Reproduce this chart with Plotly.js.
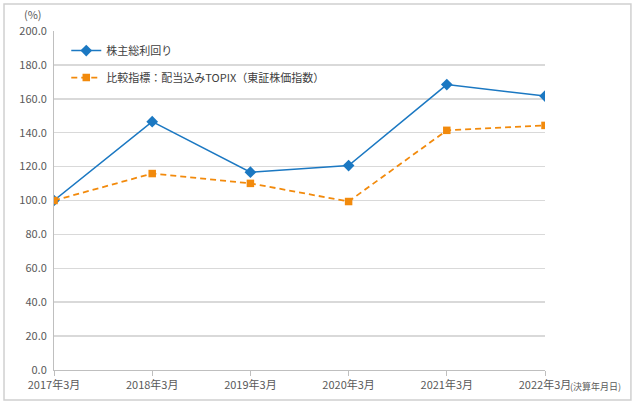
<!DOCTYPE html>
<html>
<head>
<meta charset="utf-8">
<script src="https://cdn.plot.ly/plotly-3.0.1.min.js"></script>
<style>
  body { margin: 0; background: #fff; }
  #chart { width: 635px; height: 405px; }
</style>
</head>
<body>
<div id="chart"></div>
<script>
// 決算年月
const years = ["2017年3月", "2018年3月", "2019年3月", "2020年3月", "2021年3月", "2022年3月"];
// 株主総利回り (%)
const tsr = [100.0, 146.5, 116.7, 120.6, 168.4, 161.6];
// 比較指標：配当込みTOPIX (%)
const topix = [100.0, 115.9, 110.1, 99.4, 141.4, 144.3];
const yTicks = [0, 20, 40, 60, 80, 100, 120, 140, 160, 180, 200];

const fuente = "'Noto Sans CJK JP', 'Noto Sans', sans-serif";

const trazas = [
  {
    x: years, y: tsr,
    name: "株主総利回り",
    legendgroup: "a",
    type: "scatter", mode: "lines+markers",
    line: { color: "#1b78c2", width: 1.5 },
    marker: { symbol: "diamond", size: 9, color: "#1b78c2" }
  },
  {
    x: years, y: topix,
    name: "比較指標：配当込みTOPIX（東証株価指数）",
    legendgroup: "b",
    type: "scatter", mode: "lines+markers",
    line: { color: "#f28a0c", width: 1.8, dash: "6px,4px" },
    marker: { symbol: "square", size: 7.5, color: "#f28a0c" }
  }
];

const layout = {
  width: 635, height: 405,
  margin: { l: 54, r: 90, t: 31, b: 35 },
  paper_bgcolor: "#fff", plot_bgcolor: "#fff",
  font: { family: fuente, size: 11, color: "#595959" },
  showlegend: true,
  legend: {
    x: 0.025, y: 0.985, xanchor: "left", yanchor: "top",
    bgcolor: "rgba(0,0,0,0)",
    traceorder: "grouped", tracegroupgap: 8,
    font: { family: fuente, size: 11, color: "#404040" }
  },
  xaxis: {
    type: "category",
    range: [0, 5],
    showgrid: false,
    showline: true, linecolor: "#bfbfbf", linewidth: 1,
    ticks: "outside", ticklen: 5, tickcolor: "#bfbfbf",
    tickfont: { family: fuente, size: 11, color: "#595959" },
    zeroline: false, fixedrange: true
  },
  yaxis: {
    range: [0, 200],
    tickvals: yTicks,
    tickformat: ".1f",
    showgrid: true, gridcolor: "#d9d9d9", gridwidth: 1.5,
    showline: true, linecolor: "#bfbfbf", linewidth: 1,
    ticks: "", ticklabelstandoff: 4,
    tickfont: { family: fuente, size: 11, color: "#595959" },
    zeroline: false, fixedrange: true
  },
  annotations: [
    {
      text: "(%)", xref: "paper", yref: "paper",
      x: -0.043, y: 1.05, xanchor: "center", yanchor: "middle",
      showarrow: false, font: { family: fuente, size: 11, color: "#595959" }
    },
    {
      text: "(決算年月日)", xref: "paper", yref: "paper",
      x: 1.047, y: -0.05, xanchor: "left", yanchor: "middle",
      showarrow: false, font: { family: fuente, size: 9, color: "#595959" }
    }
  ],
  shapes: [
    {
      type: "rect", xref: "paper", yref: "paper",
      x0: -0.1018, x1: 1.175, y0: -0.0885, y1: 1.0796,
      line: { color: "#d0d0d0", width: 1.5 }, layer: "below"
    }
  ]
};

Plotly.newPlot("chart", trazas, layout, { displayModeBar: false, staticPlot: true });
</script>
</body>
</html>
